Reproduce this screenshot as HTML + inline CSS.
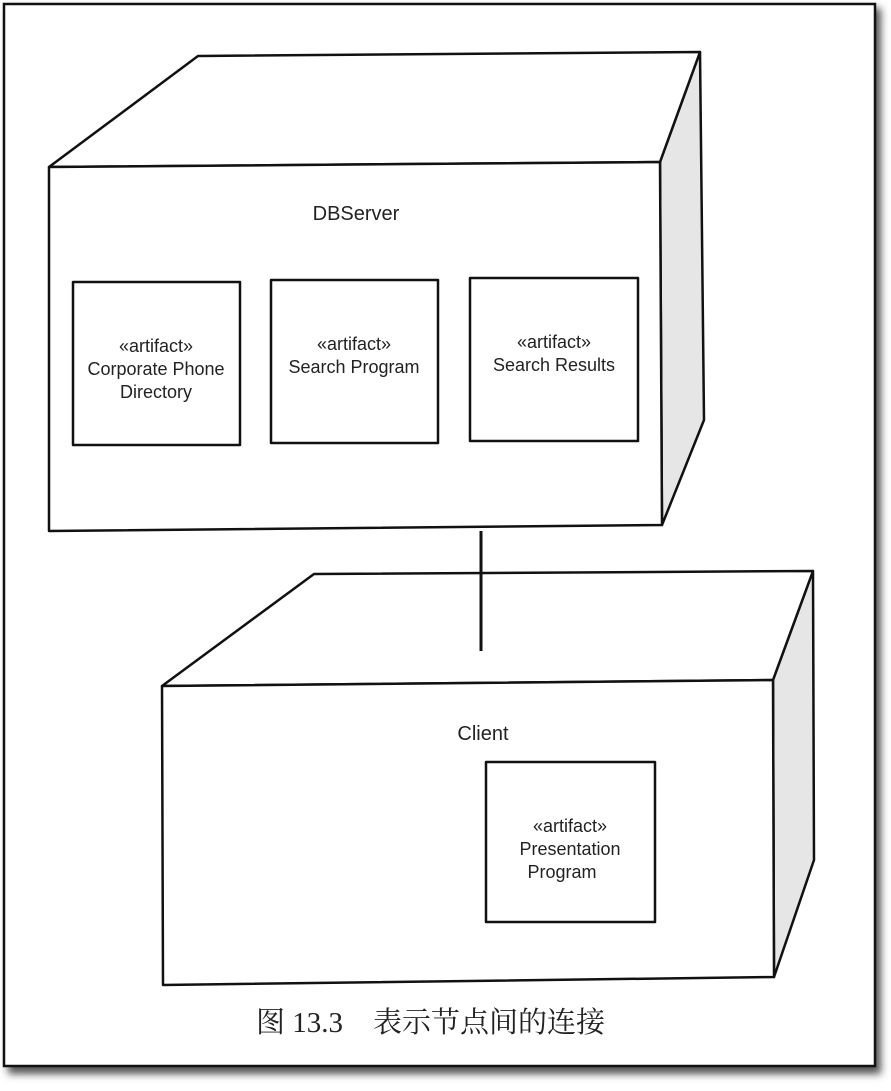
<!DOCTYPE html>
<html><head><meta charset="utf-8"><style>
body{margin:0;background:#fff;width:891px;height:1086px;overflow:hidden}
svg text{font-family:"Liberation Sans",sans-serif;fill:#222}
</style></head><body>
<svg width="891" height="1086" viewBox="0 0 891 1086">
<defs><filter id="s" x="-5%" y="-5%" width="115%" height="115%"><feGaussianBlur stdDeviation="4"/></filter></defs>
<rect x="8" y="8" width="873" height="1066" fill="#555" filter="url(#s)"/>
<rect x="4" y="4" width="871" height="1062" fill="#fff" stroke="#111" stroke-width="2.5"/>
<g stroke="#111" stroke-width="2.5" stroke-linejoin="round">
<polygon points="660,162 700,52 704,420 662,525" fill="#e6e6e6"/>
<polygon points="49,167 198,56 700,52 660,162" fill="#fff"/>
<polygon points="49,167 660,162 662,525 49,531" fill="#fff"/>
<polygon points="773,680 813,571 814,860 774,977" fill="#e6e6e6"/>
<polygon points="162,686 314,574 813,571 773,680" fill="#fff"/>
<polygon points="162,686 773,680 774,977 163,985" fill="#fff"/>
<line x1="481" y1="531" x2="481" y2="651" stroke-width="3"/>
<rect x="73" y="282" width="167" height="163" fill="#fff"/>
<rect x="271" y="280" width="167" height="163" fill="#fff"/>
<rect x="470" y="278" width="168" height="163" fill="#fff"/>
<rect x="486" y="762" width="169" height="160" fill="#fff"/>
</g>
<g font-size="18" text-anchor="middle">
<text x="356" y="220" font-size="20">DBServer</text>
<text x="156" y="352">«artifact»</text>
<text x="156" y="375">Corporate Phone</text>
<text x="156" y="398">Directory</text>
<text x="354" y="350">«artifact»</text>
<text x="354" y="373">Search Program</text>
<text x="554" y="348">«artifact»</text>
<text x="554" y="371">Search Results</text>
<text x="483" y="740" font-size="20">Client</text>
<text x="570" y="832">«artifact»</text>
<text x="570" y="855">Presentation</text>
<text x="562" y="878">Program</text>
</g>
<text x="256" y="1032" font-size="29" style='font-family:"Liberation Serif","Noto Serif CJK SC",serif;fill:#222'>图 13.3<tspan dx="30">表示节点间的连接</tspan></text>
</svg>
</body></html>
